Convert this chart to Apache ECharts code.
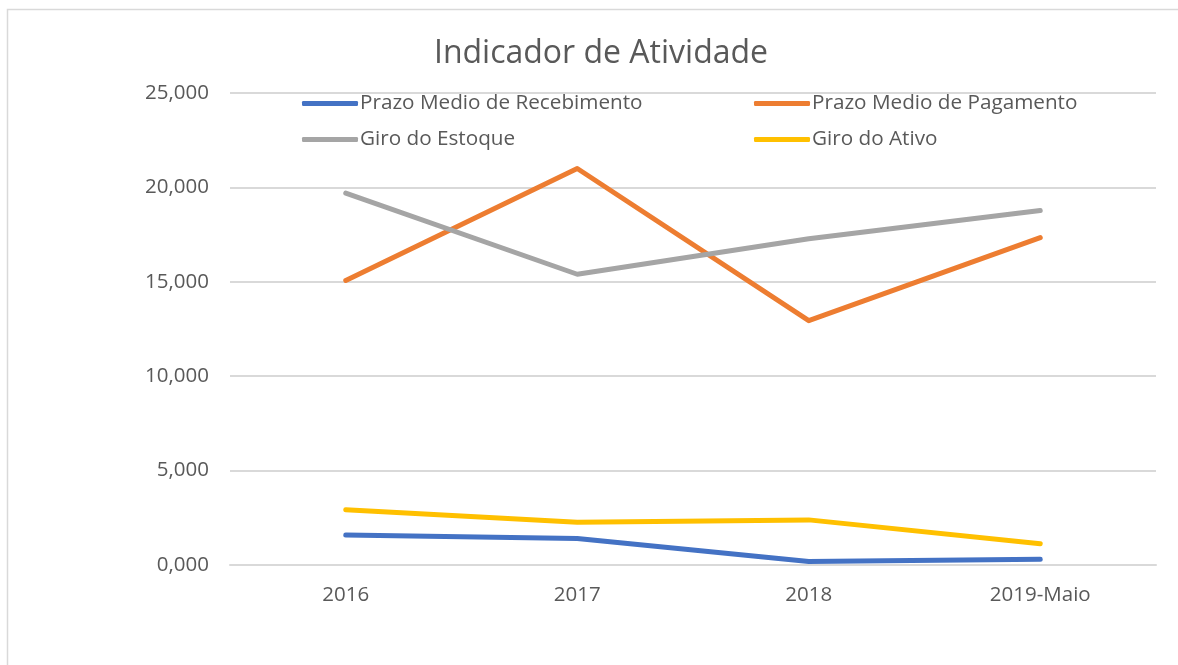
<html>
<head>
    <meta charset="utf-8"/>
    <script src="https://cdn.jsdelivr.net/npm/echarts@6/dist/echarts.min.js"></script>
    <style>
        body { margin: 0; background: #fff; }
        #chart { width: 1178px; height: 665px; }
    </style>
</head>
<body>
<div id="chart"></div>
<script type="text/javascript">

var categories = ['2016', '2017', '2018', '2019-Maio'];
var seriesNames = ['Prazo Medio de Recebimento', 'Prazo Medio de Pagamento', 'Giro do Estoque', 'Giro do Ativo'];
var recebimento = [1.59, 1.40, 0.19, 0.30];
var pagamento = [15.07, 21.00, 12.94, 17.34];
var estoque = [19.70, 15.40, 17.28, 18.78];
var ativo = [2.93, 2.27, 2.39, 1.12];
var colors = ['#4472C4', '#ED7D31', '#A5A5A5', '#FFC000'];

var font = 'Open Sans';
var textColor = '#595959';

function fmt(v) {
    return v.toFixed(3).replace('.', ',');
}

function legendAt(name, left, top) {
    return {
        data: [name],
        left: left,
        top: top,
        icon: 'roundRect',
        itemWidth: 56,
        itemHeight: 5,
        itemGap: 0,
        textStyle: { fontFamily: font, fontSize: 20.7, color: textColor, padding: [0, 0, 0, -3] }
    };
}

function lineSeries(name, data, color) {
    return {
        name: name,
        type: 'line',
        data: data,
        symbol: 'none',
        color: color,
        lineStyle: { width: 5, color: color, cap: 'round', join: 'round' },
        animation: false
    };
}

var option = {
    textStyle: { fontFamily: font },
    title: {
        text: 'Indicador de Atividade',
        left: 596,
        textAlign: 'center',
        top: 33,
        textStyle: { fontFamily: font, fontSize: 32, fontWeight: 'normal', color: textColor }
    },
    legend: [
        legendAt(seriesNames[0], 297, 88),
        legendAt(seriesNames[1], 749, 88),
        legendAt(seriesNames[2], 297, 124),
        legendAt(seriesNames[3], 749, 124)
    ],
    grid: { left: 230, right: 22, top: 93, bottom: 100 },
    xAxis: {
        type: 'category',
        data: categories,
        boundaryGap: true,
        axisLine: { lineStyle: { color: '#D9D9D9', width: 2 } },
        axisTick: { show: false },
        axisLabel: { fontFamily: font, fontSize: 20.5, color: textColor, margin: 20 }
    },
    yAxis: {
        type: 'value',
        min: 0,
        max: 25,
        interval: 5,
        axisLine: { show: false },
        axisTick: { show: false },
        splitLine: { lineStyle: { color: '#D9D9D9', width: 2 } },
        axisLabel: { fontFamily: font, fontSize: 20.5, color: textColor, margin: 21, formatter: fmt }
    },
    graphic: [{
        type: 'rect',
        shape: { x: 7.5, y: 9.5, width: 1200, height: 700 },
        style: { fill: 'none', stroke: '#D9D9D9', lineWidth: 1.5 },
        silent: true
    }],
    series: [
        lineSeries(seriesNames[0], recebimento, colors[0]),
        lineSeries(seriesNames[1], pagamento, colors[1]),
        lineSeries(seriesNames[2], estoque, colors[2]),
        lineSeries(seriesNames[3], ativo, colors[3])
    ]
};

var chart = echarts.init(document.getElementById('chart'));
chart.setOption(option);

</script>
</body>
</html>
